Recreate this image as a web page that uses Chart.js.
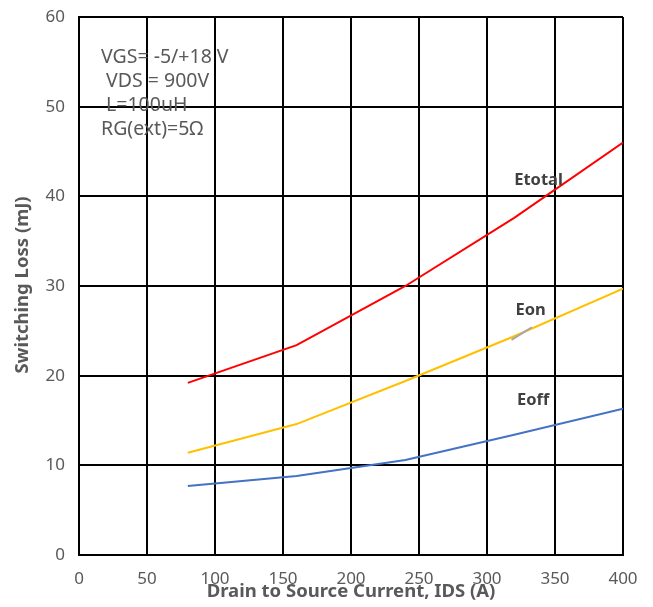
<!DOCTYPE html>
<html>
<head>
<meta charset="utf-8">
<script src="https://cdn.jsdelivr.net/npm/chart.js@4.4.1/dist/chart.umd.min.js"></script>
<style>
  html, body { margin: 0; padding: 0; background: #fff; }
  #wrap { width: 653px; height: 607px; position: relative; }
</style>
</head>
<body>
<div id="wrap"><canvas id="c" width="653" height="607"></canvas></div>
<script>
// Drain current (A) at which the losses were measured
const currents = [80, 160, 240, 320, 400];
// Switching energies (mJ)
const eTotal = [19.2, 23.4, 30.0, 37.6, 46.0];
const eOn    = [11.4, 14.6, 19.4, 24.4, 29.7];
const eOff   = [7.7, 8.8, 10.6, 13.4, 16.3];

const xTicks = [0, 50, 100, 150, 200, 250, 300, 350, 400];
const yTicks = [0, 10, 20, 30, 40, 50, 60];

const conditions = ['VGS= -5/+18 V', ' VDS = 900V', ' L=100uH', 'RG(ext)=5Ω'];
const curveLabels = [
  { text: 'Etotal', x: 320, y: 41.8 },
  { text: 'Eon',    x: 321, y: 27.3 },
  { text: 'Eoff',   x: 322, y: 17.3 }
];
// short leader pointing at the Eon curve (data coordinates)
const eonLeader = [{ x: 318, y: 24.0 }, { x: 333, y: 25.4 }];

const FONT = "'Noto Sans', 'DejaVu Sans', sans-serif";
const TEXT_GREY = '#595959';

const toXY = (xs, ys) => xs.map((x, i) => ({ x, y: ys[i] }));

const overlay = {
  id: 'overlay',
  afterDatasetsDraw(chart) {
    const { ctx, chartArea: a, scales: { x, y } } = chart;
    ctx.save();

    // leader line for Eon
    ctx.strokeStyle = '#a6a6a6';
    ctx.lineWidth = 2;
    ctx.beginPath();
    ctx.moveTo(x.getPixelForValue(eonLeader[0].x), y.getPixelForValue(eonLeader[0].y));
    ctx.lineTo(x.getPixelForValue(eonLeader[1].x), y.getPixelForValue(eonLeader[1].y));
    ctx.stroke();

    // curve names
    ctx.fillStyle = '#404040';
    ctx.font = 'bold 16.5px ' + FONT;
    ctx.textAlign = 'left';
    ctx.textBaseline = 'middle';
    curveLabels.forEach(l => {
      ctx.fillText(l.text, x.getPixelForValue(l.x), y.getPixelForValue(l.y));
    });

    // test conditions block
    ctx.fillStyle = TEXT_GREY;
    ctx.font = '19.5px ' + FONT;
    conditions.forEach((t, i) => {
      ctx.fillText(t, a.left + 22, a.top + 40 + i * 24);
    });

    // axis titles
    ctx.textAlign = 'center';
    ctx.font = 'bold 18.5px ' + FONT;
    ctx.fillText('Drain to Source Current, IDS (A)', (a.left + a.right) / 2, a.bottom + 37);
    ctx.translate(23, (a.top + a.bottom) / 2 - 1);
    ctx.rotate(-Math.PI / 2);
    ctx.fillText('Switching Loss (mJ)', 0, 0);
    ctx.restore();
  }
};

new Chart(document.getElementById('c'), {
  type: 'line',
  data: {
    datasets: [
      { label: 'Etotal', data: toXY(currents, eTotal), borderColor: '#ff0000' },
      { label: 'Eon',    data: toXY(currents, eOn),    borderColor: '#ffc000' },
      { label: 'Eoff',   data: toXY(currents, eOff),   borderColor: '#4472c4' }
    ]
  },
  options: {
    responsive: false,
    animation: false,
    layout: { padding: { top: 17, right: 30, left: 0, bottom: 0 } },
    elements: {
      line: { borderWidth: 2, tension: 0, fill: false },
      point: { radius: 0, hoverRadius: 0 }
    },
    plugins: { legend: { display: false }, tooltip: { enabled: false } },
    scales: {
      x: {
        type: 'linear',
        min: 0, max: 400,
        afterBuildTicks: s => { s.ticks = xTicks.map(v => ({ value: v })); },
        afterFit: s => { s.height = 52; s.paddingLeft = 0; s.paddingRight = 0; },
        grid: { color: '#000', lineWidth: 2, drawTicks: false },
        border: { color: '#000', width: 2 },
        ticks: { color: TEXT_GREY, font: { family: FONT, size: 17 }, padding: 14, maxRotation: 0 }
      },
      y: {
        type: 'linear',
        min: 0, max: 60,
        afterBuildTicks: s => { s.ticks = yTicks.map(v => ({ value: v })); },
        afterFit: s => { s.width = 79; s.paddingTop = 0; s.paddingBottom = 0; },
        grid: { color: '#000', lineWidth: 2, drawTicks: false },
        border: { color: '#000', width: 2 },
        ticks: { color: TEXT_GREY, font: { family: FONT, size: 17 }, padding: 14 }
      }
    }
  },
  plugins: [overlay]
});
</script>
</body>
</html>
